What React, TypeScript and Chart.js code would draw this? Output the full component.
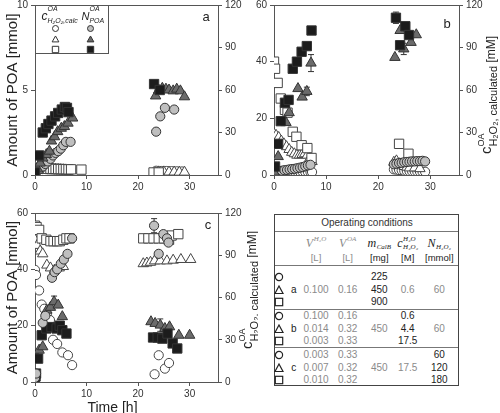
import React, { useEffect, useRef } from 'react';
import { Chart, registerables } from 'chart.js';

Chart.register(...registerables);

const SANS = '"Liberation Sans", Arial, Helvetica, sans-serif';
const SERIF = '"Liberation Serif", "DejaVu Serif", serif';

// ---------- shared tick labels ----------
const timeTicks = [0, 10, 20, 30];
const concTicks = [0, 30, 60, 90, 120];
const poaTicksA = [0, 5, 10];
const poaTicksBC = [0, 20, 40, 60];

// ---------- panel a : N_POA (mmol, left) ----------
const aCircT = [0, 0.5, 1, 1.5, 2, 2.5, 3, 3.5, 4, 4.5, 5, 5.5, 6, 6.9, 23.5, 24.3, 25.2, 27];
const aCircN = [0.1, 0.25, 0.35, 0.5, 0.65, 0.8, 0.95, 1.15, 1.3, 1.4, 1.55, 1.75, 1.95, 1.95, 2.55, 3.45, 3.95, 3.85];
const aTriT = [0.5, 1, 1.5, 2.2, 2.8, 3.2, 3.8, 4.4, 5.1, 5.7, 6.4, 7.3, 23.4, 24, 24.7, 25.4, 26, 26.8, 27.5, 28.2, 29];
const aTriN = [0.35, 0.7, 1.0, 1.2, 1.4, 2.0, 2.25, 2.55, 2.75, 2.85, 3.05, 3.35, 4.65, 5.0, 5.1, 5.05, 5.0, 4.95, 5.05, 4.95, 4.6];
const aSqT = [0, 0.8, 1.5, 2.1, 2.6, 3.2, 3.9, 4.5, 5.2, 5.8, 6.2, 6.5, 23.1, 24.2];
const aSqN = [0.15, 1.15, 2.5, 2.75, 3.0, 3.2, 3.45, 3.65, 3.85, 4.0, 3.95, 3.7, 5.35, 5.0];
// panel a : c_H2O2 calc (mM, right)
const aOCircT = [0, 0.5, 1, 1.5, 2, 2.5, 3, 3.5, 4, 4.5, 5, 5.5, 6, 6.5, 7, 23.5, 24.5, 25.5, 26.5, 27.5, 28.5];
const aOCircC = [5, 4.5, 4.3, 4.2, 4.2, 4.0, 4.0, 3.9, 3.8, 3.8, 3.7, 3.7, 3.6, 3.6, 3.5, 3.0, 2.8, 2.8, 2.7, 2.6, 2.5];
const aOTriT = [0, 0.5, 1, 1.5, 2, 2.5, 3, 3.5, 4, 4.5, 5, 5.5, 6, 6.5, 7, 24, 25, 26, 27, 28, 29];
const aOTriC = [5.5, 5, 4.8, 4.6, 4.4, 4.3, 4.2, 4.1, 4.0, 3.9, 3.8, 3.7, 3.6, 3.5, 3.4, 2.2, 2.2, 2.1, 2.1, 2.0, 2.0];
const aOSqT = [0, 0.5, 1, 1.5, 2, 2.5, 3, 3.5, 4, 4.5, 5, 5.5, 6, 6.5, 7, 9, 23, 24];
const aOSqC = [4.8, 4.8, 4.6, 4.5, 4.5, 4.4, 4.4, 4.3, 4.3, 4.2, 4.2, 4.1, 4.1, 4.0, 4.0, 3.8, 1.8, 1.8];

// ---------- panel b ----------
const bCircT = [0, 0.5, 1, 1.5, 2, 2.5, 3, 3.5, 4, 4.5, 5, 5.5, 6, 6.5, 7, 23, 23.5, 24, 24.5, 25, 25.5, 26, 26.5, 27, 27.5, 28, 28.5, 29];
const bCircN = [0.5, 1, 1.2, 1.5, 1.7, 1.8, 2, 2.1, 2.2, 2.4, 2.6, 2.8, 3.1, 3.4, 3.6, 3.8, 4, 4.2, 4.3, 4.5, 4.6, 4.7, 4.8, 4.8, 4.9, 4.9, 5, 4.8];
const bTriT = [0, 0.8, 2.3, 2.9, 4.6, 5.4, 6.3, 7.1, 23.2, 24.2, 24.9, 26.3, 27.3];
const bTriN = [1, 6.5, 18.5, 22, 30.5, 27.5, 29.5, 39.5, 41.5, 51, 44.5, 46.8, 49.5];
const bTriErr = [0, 0, 0, 0, 0, 0, 1.5, 3, 0, 0, 2, 0, 0];
const bSqT = [0.2, 0.8, 1.3, 2.1, 2.8, 3.6, 4.4, 5.3, 6.3, 7.2, 23.4, 24.2, 25.2, 25.9];
const bSqN = [3, 11, 19, 25.5, 26.5, 37.5, 40, 43.5, 45.5, 51, 55.5, 45.8, 52.5, 49.4];
const bSqErr = [0, 0, 0, 0, 0, 0, 0, 0, 1, 0, 2, 0, 0, 0];
const bOCircT = [0, 0.5, 1, 1.5, 2, 2.5, 3, 3.5, 4, 4.5, 5, 5.5, 6, 6.5, 7, 7.3, 23, 23.5, 24, 24.5, 25, 25.5, 26, 26.5, 27, 27.5, 28, 28.5, 29];
const bOCircC = [3, 3, 2.8, 2.8, 2.6, 2.6, 2.5, 2.5, 2.4, 2.4, 2.3, 2.3, 2.2, 2.2, 2.1, 2.1, 4, 3.8, 3.5, 3.3, 3, 2.8, 2.7, 2.6, 2.5, 2.4, 2.4, 2.3, 2.3];
const bOTriT = [0, 0.4, 0.9, 1.4, 1.9, 2.4, 2.9, 3.4, 3.9, 4.4, 4.9, 5.4, 5.9, 6.4, 6.9, 7.3, 23, 23.5, 24, 24.5, 25, 25.5, 26, 27, 28];
const bOTriC = [29, 28, 26.5, 24, 22, 20, 18, 16, 15, 14, 14, 14.5, 15, 14, 12, 9.5, 9, 10, 8, 7, 6, 5.5, 5, 5, 4.5];
const bOSqT = [0, 0.2, 0.7, 1.3, 2.1, 2.6, 3.6, 4.3, 5.3, 6.4, 7.2, 24, 25.8];
const bOSqC = [80, 75, 65, 54, 46, 44, 30.5, 27, 21, 19, 12, 22, 15];

// ---------- panel c ----------
const cCircT = [0, 0.2, 1.5, 2, 3.3, 3.8, 4.3, 5, 5.6, 6.3, 7.2, 23.1, 24, 24.9, 25.6, 25.9];
const cCircN = [1.5, 3, 21, 23.5, 37, 39, 40, 42, 43.5, 45.5, 51, 55.5, 45.5, 52.5, 51, 49.5];
const cCircErr = [0, 0, 0, 0, 0, 0, 0, 0, 0, 0, 0, 2.5, 0, 0, 0, 0];
const cTriT = [0.3, 0.8, 1.5, 2.3, 3, 3.7, 4.5, 5.3, 22.5, 23.3, 24.3, 25.2, 26.1, 27.9, 30];
const cTriN = [9, 11.3, 12.5, 25.5, 26.5, 28.5, 27.3, 23.2, 21.4, 20.8, 20.2, 19, 19.6, 16.6, 16.6];
const cTriErr = [0, 0, 0, 0, 0, 2, 0, 0, 0, 0, 2.2, 0, 0, 0, 0];
const cSqT = [0, 0.1, 0.2, 0.6, 1.3, 2.2, 3.2, 4.2, 4.8, 5.3, 6.1, 22.9, 23.8, 24.7, 25.7, 26.7, 27.6];
const cSqN = [0.5, 2, 3, 8.3, 16.6, 19, 19.5, 19, 20, 18.4, 17.2, 15.8, 15.8, 15.4, 17.2, 13.7, 11.9];
const cOCircT = [0, 0.2, 0.8, 1.3, 1.8, 2.3, 2.9, 3.5, 4.3, 5.3, 6.4, 7.2, 23.2, 24, 25.2, 26];
const cOCircC = [79.6, 76, 65, 55, 52, 48, 44, 30, 27, 21, 19, 12, 5.5, 19, 9.5, 13.5];
const cOTriT = [0, 0.4, 1, 1.5, 2.3, 3, 3.8, 4.7, 5.5, 21, 21.7, 22.4, 23.2, 24.3, 25.6, 26.8, 28.3, 30.2];
const cOTriC = [101, 97, 93, 91, 83, 81, 79.5, 81, 82, 84, 84.5, 85, 86, 86, 86, 86.5, 87, 87];
const cOSqT = [0, 0.3, 0.8, 1.3, 2.2, 3, 3.6, 4.3, 4.8, 5.5, 6.1, 6.7, 21, 22, 23, 24, 25, 26, 26.5, 27.8];
const cOSqC = [111, 110, 108, 102, 101, 100, 100, 100, 100, 101, 102, 102, 102, 102, 102, 102, 102, 101, 104, 105];

// ---------- table ----------
const tblHeadUnits = ['[L]', '[L]', '[mg]', '[M]', '[mmol]'];
const tblGroups = ['a', 'b', 'c'];
const tblA_mCalB = ['225', '450', '900'];
const tblB_VH2O = ['0.100', '0.014', '0.003'];
const tblB_VOA = ['0.16', '0.32', '0.33'];
const tblB_cH2O2 = ['0.6', '4.4', '17.5'];
const tblC_VH2O = ['0.003', '0.007', '0.010'];
const tblC_VOA = ['0.33', '0.32', '0.32'];
const tblC_NH2O2 = ['60', '120', '180'];

type Shape = 'circle' | 'triangle' | 'rect';
const FILLED: Record<Shape, string> = { circle: '#bfbfbf', triangle: '#6b6b6b', rect: '#1c1c1c' };
const RADIUS: Record<Shape, number> = { circle: 4.6, triangle: 6, rect: 6.6 };

function ds(t: number[], v: number[], shape: Shape, filled: boolean, err?: number[]) {
  return {
    type: 'scatter',
    data: t.map((x, i) => ({ x, y: v[i] })),
    yAxisID: filled ? 'y' : 'y2',
    pointStyle: shape,
    pointRadius: RADIUS[shape],
    pointBackgroundColor: filled ? FILLED[shape] : '#ffffff',
    pointBorderColor: filled ? '#333333' : '#454545',
    backgroundColor: filled ? FILLED[shape] : '#ffffff',
    borderColor: '#333333',
    pointBorderWidth: 1,
    showLine: false,
    errors: err,
  } as any;
}

type Seg = { t: string; size: number; dy?: number; italic?: boolean; stay?: boolean; family?: string; color?: string };
function drawRich(ctx: CanvasRenderingContext2D, x: number, y: number, segs: Seg[], rotate: boolean, center: boolean) {
  ctx.save();
  ctx.translate(x, y);
  if (rotate) ctx.rotate(-Math.PI / 2);
  ctx.textBaseline = 'alphabetic';
  ctx.textAlign = 'left';
  const fontOf = (s: Seg) => `${s.italic ? 'italic ' : ''}${s.size}px ${s.family || SANS}`;
  const xs: number[] = [];
  let cur = 0, stayEnd = 0, stayStart = -1;
  for (const s of segs) {
    ctx.font = fontOf(s);
    const w = ctx.measureText(s.t).width;
    if (s.stay) { xs.push(cur); stayEnd = cur + w; stayStart = cur; }
    else if (stayStart >= 0) { xs.push(stayStart); cur = Math.max(stayStart + w, stayEnd); stayStart = -1; }
    else { xs.push(cur); cur += w; }
  }
  const off = center ? -cur / 2 : 0;
  segs.forEach((s, i) => {
    ctx.font = fontOf(s);
    ctx.fillStyle = s.color || '#222';
    ctx.fillText(s.t, xs[i] + off, s.dy || 0);
  });
  ctx.restore();
}

function marker(ctx: CanvasRenderingContext2D, shape: Shape, x: number, y: number, r: number, fill: string) {
  ctx.beginPath();
  if (shape === 'circle') ctx.arc(x, y, r, 0, Math.PI * 2);
  else if (shape === 'rect') ctx.rect(x - r, y - r, 2 * r, 2 * r);
  else { ctx.moveTo(x, y - r * 1.1); ctx.lineTo(x + r * 1.05, y + r * 0.75); ctx.lineTo(x - r * 1.05, y + r * 0.75); ctx.closePath(); }
  ctx.fillStyle = fill; ctx.fill();
  ctx.strokeStyle = '#333'; ctx.lineWidth = 1; ctx.stroke();
}

const RIGHT_TITLE: Seg[] = [
  { t: 'c', size: 15 },
  { t: 'OA', size: 9, dy: -7, stay: true },
  { t: 'H\u2082O\u2082, calculated', size: 11, dy: 6 },
  { t: ' [mM]', size: 12, dy: 4 },
];

interface PanelCfg {
  area: { l: number; r: number; t: number; b: number };
  yMax: number; yTicks: number[];
  letter: string; letterPos: [number, number];
  leftTitle?: boolean; rightTitle?: [number, number]; legend?: boolean; xTitle?: boolean;
  datasets: any[];
}

function decor(cfg: PanelCfg) {
  return {
    id: 'decor',
    beforeDatasetsDraw(chart: any) {
      const ctx = chart.ctx as CanvasRenderingContext2D;
      const a = chart.chartArea;
      ctx.save();
      ctx.strokeStyle = '#555'; ctx.lineWidth = 1;
      ctx.strokeRect(Math.round(a.left) + 0.5, Math.round(a.top) + 0.5, Math.round(a.right - a.left), Math.round(a.bottom - a.top));
      chart.data.datasets.forEach((d: any, di: number) => {
        if (!d.errors) return;
        const meta = chart.getDatasetMeta(di);
        const ys = chart.scales[d.yAxisID];
        d.data.forEach((p: any, i: number) => {
          const e = d.errors[i];
          if (!e) return;
          const px = meta.data[i].x;
          const y1 = ys.getPixelForValue(p.y + e), y2 = ys.getPixelForValue(p.y - e);
          ctx.beginPath();
          ctx.moveTo(px, y1); ctx.lineTo(px, y2);
          ctx.moveTo(px - 3, y1); ctx.lineTo(px + 3, y1);
          ctx.moveTo(px - 3, y2); ctx.lineTo(px + 3, y2);
          ctx.strokeStyle = '#333'; ctx.stroke();
        });
      });
      ctx.restore();
    },
    afterDatasetsDraw(chart: any) {
      const ctx = chart.ctx as CanvasRenderingContext2D;
      const a = chart.chartArea;
      ctx.save();
      // panel letter
      ctx.font = `13px ${SANS}`; ctx.fillStyle = '#222'; ctx.textAlign = 'center'; ctx.textBaseline = 'middle';
      ctx.fillText(cfg.letter, cfg.letterPos[0], cfg.letterPos[1] + 20);
      if (cfg.leftTitle) {
        drawRich(ctx, 17, (a.top + a.bottom) / 2, [{ t: 'Amount of POA [mmol]', size: 15 }], true, true);
      }
      if (cfg.rightTitle) {
        drawRich(ctx, cfg.rightTitle[0], cfg.rightTitle[1] + 20, RIGHT_TITLE, true, true);
      }
      if (cfg.xTitle) {
        drawRich(ctx, (a.left + a.right) / 2 - 14, a.bottom + 30, [{ t: 'Time [h]', size: 14 }], false, true);
      }
      if (cfg.legend) {
        const x0 = Math.round(a.left) + 0.5, y0 = Math.round(a.top) + 0.5;
        ctx.fillStyle = '#fff'; ctx.fillRect(x0, y0, 73, 48);
        ctx.strokeStyle = '#555'; ctx.lineWidth = 1; ctx.strokeRect(x0, y0, 73, 48);
        drawRich(ctx, x0 + 6, y0 + 14, [
          { t: 'c', size: 12, italic: true },
          { t: 'OA', size: 7, italic: true, dy: -9, stay: true },
          { t: 'H\u2082O\u2082,calc', size: 7, italic: true, dy: 3 },
        ], false, false);
        drawRich(ctx, x0 + 46, y0 + 14, [
          { t: 'N', size: 11, italic: true },
          { t: 'OA', size: 7, italic: true, dy: -9, stay: true },
          { t: 'POA', size: 7, italic: true, dy: 3 },
        ], false, false);
        const shapes: Shape[] = ['circle', 'triangle', 'rect'];
        const rowY = [23, 34, 44];
        shapes.forEach((s, i) => {
          marker(ctx, s, x0 + 20, y0 + rowY[i], s === 'circle' ? 3 : 3.2, '#fff');
          marker(ctx, s, x0 + 55, y0 + rowY[i], s === 'circle' ? 3 : 3.2, FILLED[s]);
        });
      }
      ctx.restore();
    },
  };
}

function scaleOpts(min: number, max: number, ticks: number[], pos: string, size: number) {
  return {
    type: 'linear', position: pos, min, max,
    grid: { drawOnChartArea: false, drawTicks: true, tickLength: 4, color: '#555' },
    border: { display: false },
    ticks: { font: { family: SANS, size: 10 }, color: '#333', padding: pos === 'bottom' ? 2 : 3 },
    afterBuildTicks: (s: any) => { s.ticks = ticks.map((value) => ({ value })); },
    afterFit: (s: any) => { if (pos === 'bottom') s.height = size; else s.width = size; },
  } as any;
}

const CW = 500, CH = 453, OFF = 20;

function Panel({ cfg }: { cfg: PanelCfg }) {
  const ref = useRef<HTMLCanvasElement>(null);
  useEffect(() => {
    const { area } = cfg;
    const chart = new Chart(ref.current as HTMLCanvasElement, {
      type: 'scatter',
      data: { datasets: cfg.datasets },
      options: {
        responsive: false, animation: false, devicePixelRatio: 1,
        layout: { padding: { left: area.l - 30, right: CW - area.r - 30, top: area.t + OFF, bottom: CH - (area.b + OFF) - 20 } },
        plugins: { legend: { display: false }, tooltip: { enabled: false }, title: { display: false } },
        scales: {
          x: scaleOpts(0, 35.5, timeTicks, 'bottom', 20),
          y: scaleOpts(0, cfg.yMax, cfg.yTicks, 'left', 30),
          y2: scaleOpts(0, 120, concTicks, 'right', 30),
        },
      } as any,
      plugins: [decor(cfg)],
    } as any);
    return () => chart.destroy();
  }, []);
  return <canvas ref={ref} width={CW} height={CH} style={{ position: 'absolute', left: 0, top: -OFF, width: CW, height: CH }} />;
}

const panelA: PanelCfg = {
  area: { l: 35, r: 218, t: 5, b: 175 }, yMax: 10, yTicks: poaTicksA,
  letter: 'a', letterPos: [206, 17], leftTitle: true, legend: true,
  datasets: [
    ds(aSqT, aSqN, 'rect', true), ds(aTriT, aTriN, 'triangle', true), ds(aCircT, aCircN, 'circle', true),
    ds(aOSqT, aOSqC, 'rect', false), ds(aOTriT, aOTriC, 'triangle', false), ds(aOCircT, aOCircC, 'circle', false),
  ],
};
const panelB: PanelCfg = {
  area: { l: 274, r: 459, t: 5, b: 175 }, yMax: 60, yTicks: poaTicksBC,
  letter: 'b', letterPos: [447, 24], rightTitle: [491, 95],
  datasets: [
    ds(bSqT, bSqN, 'rect', true, bSqErr), ds(bTriT, bTriN, 'triangle', true, bTriErr), ds(bCircT, bCircN, 'circle', true),
    ds(bOSqT, bOSqC, 'rect', false), ds(bOTriT, bOTriC, 'triangle', false), ds(bOCircT, bOCircC, 'circle', false),
  ],
};
const panelC: PanelCfg = {
  area: { l: 35, r: 218, t: 213, b: 382 }, yMax: 60, yTicks: poaTicksBC,
  letter: 'c', letterPos: [208, 225], leftTitle: true, xTitle: true, rightTitle: [252, 290],
  datasets: [
    ds(cCircT, cCircN, 'circle', true, cCircErr), ds(cSqT, cSqN, 'rect', true), ds(cTriT, cTriN, 'triangle', true, cTriErr),
    ds(cOCircT, cOCircC, 'circle', false), ds(cOSqT, cOSqC, 'rect', false), ds(cOTriT, cOTriC, 'triangle', false),
  ],
};

const GRAY = '#8a8a8a';
const INK = '#222';

function Cell({ x, y, color = INK, size = 10, children, family = SANS }: any) {
  return (
    <div style={{ position: 'absolute', left: x, top: y, transform: 'translate(-50%,-50%)', whiteSpace: 'nowrap', color, fontSize: size, fontFamily: family, lineHeight: 1 }}>
      {children}
    </div>
  );
}

function Mk({ shape, x, y }: { shape: Shape; x: number; y: number }) {
  return (
    <svg width={10} height={10} style={{ position: 'absolute', left: x - 5, top: y - 5 }}>
      {shape === 'circle' && <circle cx={5} cy={5} r={3.6} fill="none" stroke="#222" strokeWidth={1.2} />}
      {shape === 'triangle' && <polygon points="5,1 9,8.5 1,8.5" fill="none" stroke="#222" strokeWidth={1.2} />}
      {shape === 'rect' && <rect x={1.3} y={1.3} width={7.4} height={7.4} fill="none" stroke="#222" strokeWidth={1.2} />}
    </svg>
  );
}

function Sym({ base, sup, sub, color }: any) {
  return (
    <span style={{ fontFamily: SERIF, fontStyle: 'italic', color, fontSize: 12, display: 'inline-flex', alignItems: 'center' }}>
      <span>{base}</span>
      <span style={{ display: 'inline-flex', flexDirection: 'column', fontSize: 7, lineHeight: '8px', marginLeft: 0.5 }}>
        <span style={{ visibility: sup ? 'visible' : 'hidden' }}>{sup || '.'}</span>
        <span style={{ visibility: sub ? 'visible' : 'hidden' }}>{sub || '.'}</span>
      </span>
    </span>
  );
}

function Table() {
  const colX = [3.5, 18.7, 41, 72.7, 104.3, 132.7, 164.3];
  const rowsY = [[62, 75, 87], [101, 114, 126], [140, 153, 165]];
  const shapes: Shape[] = ['circle', 'triangle', 'rect'];
  const lines = [16, 50, 94, 132];
  return (
    <div style={{ position: 'absolute', left: 258, top: 200, width: 242, height: 213, background: '#fff' }}>
      <div style={{ position: 'absolute', left: 16, top: 14, width: 185, height: 172, border: '1px solid #444', boxSizing: 'border-box' }}>
        {lines.map((y) => <div key={y} style={{ position: 'absolute', left: 0, right: 0, top: y, height: 1, background: '#777' }} />)}
        <Cell x={92} y={8} color="#333">Operating conditions</Cell>
        <Cell x={colX[2]} y={28}><Sym base="V" sup={'H\u2082O'} color={GRAY} /></Cell>
        <Cell x={colX[3]} y={28}><Sym base="V" sup="OA" color={GRAY} /></Cell>
        <Cell x={colX[4]} y={28}><Sym base="m" sub="CalB" color={INK} /></Cell>
        <Cell x={colX[5]} y={28}><Sym base="c" sup={'H\u2082O'} sub={'H\u2082O\u2082'} color={INK} /></Cell>
        <Cell x={colX[6]} y={28}><Sym base="N" sub={'H\u2082O\u2082'} color={INK} /></Cell>
        {tblHeadUnits.map((u, i) => <Cell key={i} x={colX[i + 2]} y={43} color={i < 2 ? GRAY : INK} size={9.5}>{u}</Cell>)}
        {rowsY.map((ry, g) => (
          <React.Fragment key={g}>
            {shapes.map((s, i) => <Mk key={s} shape={s} x={colX[0]} y={ry[i]} />)}
            <Cell x={colX[1]} y={ry[1]}>{tblGroups[g]}</Cell>
          </React.Fragment>
        ))}
        {/* group a */}
        <Cell x={colX[2]} y={rowsY[0][1]} color={GRAY}>0.100</Cell>
        <Cell x={colX[3]} y={rowsY[0][1]} color={GRAY}>0.16</Cell>
        {tblA_mCalB.map((m, i) => <Cell key={i} x={colX[4]} y={rowsY[0][i]}>{m}</Cell>)}
        <Cell x={colX[5]} y={rowsY[0][1]} color={GRAY}>0.6</Cell>
        <Cell x={colX[6]} y={rowsY[0][1]} color={GRAY}>60</Cell>
        {/* group b */}
        {tblB_VH2O.map((v, i) => <Cell key={'bv' + i} x={colX[2]} y={rowsY[1][i]} color={GRAY}>{v}</Cell>)}
        {tblB_VOA.map((v, i) => <Cell key={'bo' + i} x={colX[3]} y={rowsY[1][i]} color={GRAY}>{v}</Cell>)}
        <Cell x={colX[4]} y={rowsY[1][1]} color={GRAY}>450</Cell>
        {tblB_cH2O2.map((v, i) => <Cell key={'bc' + i} x={colX[5]} y={rowsY[1][i]}>{v}</Cell>)}
        <Cell x={colX[6]} y={rowsY[1][1]} color={GRAY}>60</Cell>
        {/* group c */}
        {tblC_VH2O.map((v, i) => <Cell key={'cv' + i} x={colX[2]} y={rowsY[2][i]} color={GRAY}>{v}</Cell>)}
        {tblC_VOA.map((v, i) => <Cell key={'co' + i} x={colX[3]} y={rowsY[2][i]} color={GRAY}>{v}</Cell>)}
        <Cell x={colX[4]} y={rowsY[2][1]} color={GRAY}>450</Cell>
        <Cell x={colX[5]} y={rowsY[2][1]} color={GRAY}>17.5</Cell>
        {tblC_NH2O2.map((v, i) => <Cell key={'cn' + i} x={colX[6]} y={rowsY[2][i]}>{v}</Cell>)}
      </div>
    </div>
  );
}

export default function App() {
  return (
    <div style={{ position: 'fixed', left: 0, top: 0, width: 500, height: 413, overflow: 'hidden', background: '#fff' }}>
      <Panel cfg={panelA} />
      <Panel cfg={panelB} />
      <Panel cfg={panelC} />
      <Table />
    </div>
  );
}
